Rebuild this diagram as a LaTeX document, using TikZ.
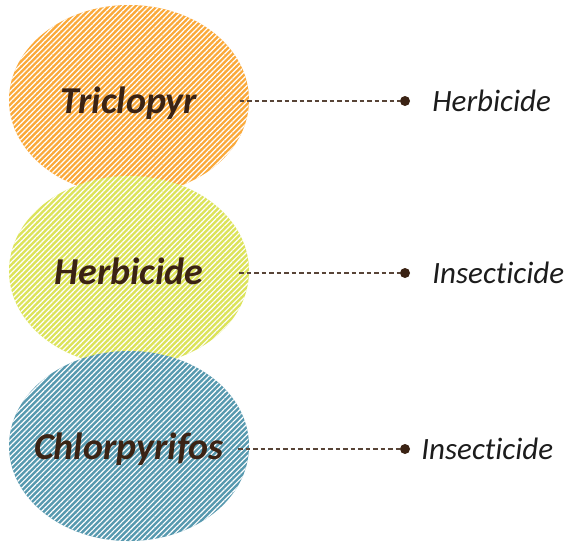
\documentclass[tikz,border=0pt]{standalone}
\usepackage{fontspec}
\setmainfont{Carlito}[Ligatures={NoCommon}]
\usetikzlibrary{positioning,shapes.geometric,patterns.meta}
\definecolor{blobOrange}{HTML}{FAA93A}
\definecolor{blobLime}{HTML}{DCE35A}
\definecolor{blobTeal}{HTML}{5799AF}
\definecolor{inkBrown}{HTML}{3B2314}
\definecolor{inkText}{HTML}{1C1C1C}
\tikzset{
  % Hatched blob behind a compound name.
  chem/blob/.style={
    ellipse, inner sep=0pt, minimum width=240pt, minimum height=190pt,
    preaction={fill=#1},
    pattern={Lines[angle=45,distance=3.8pt,line width=1.2pt]}, pattern color=white
  },
  chem/name/.style={
    inner sep=0pt, text depth=0pt,
    font=\fontsize{38}{40}\selectfont\bfseries\itshape, text=inkBrown
  },
  % End point of a leader line.
  chem/dot/.style={
    circle, fill=inkBrown, inner sep=0pt, minimum size=10pt
  },
  % Use class written beside the dot.
  chem/use/.style={
    font=\fontsize{31}{33}\selectfont\itshape, text=inkText, inner sep=0pt, anchor=west
  },
  chem/leader/.style={
    draw=inkBrown!85, line width=1.2pt, dash pattern=on 4.5pt off 3pt
  },
}
\begin{document}
\begin{tikzpicture}[x=1pt,y=-1pt]
  \useasboundingbox (0,0) rectangle (569,542);

  \node[chem/blob=blobOrange] (tri) at (129,100) {};
  \node[chem/blob=blobLime]   (her) at (129,271) {};
  \node[chem/blob=blobTeal]   (chl) at (129,446) {};
  \node[chem/name] (triT) at (tri) {Triclopyr};
  \node[chem/name] (herT) at (her) {Herbicide};
  \node[chem/name] (chlT) at (chl) {Chlorpyrifos};

  \node[chem/dot] (d1) at (405,101) {};
  \node[chem/dot] (d2) at (405,273) {};
  \node[chem/dot] (d3) at (405,449) {};

  \node[chem/use, right=22pt of d1] (u1) {Herbicide};
  \node[chem/use, right=22pt of d2] (u2) {Insecticide};
  \node[chem/use, right=11pt of d3] (u3) {Insecticide};

  \draw[chem/leader] ([xshift=-10pt]tri.east |- d1) -- (d1);
  \draw[chem/leader] ([xshift=-10pt]her.east |- d2) -- (d2);
  \draw[chem/leader] ([xshift=-11pt]chl.east |- d3) -- (d3);
\end{tikzpicture}
\end{document}
